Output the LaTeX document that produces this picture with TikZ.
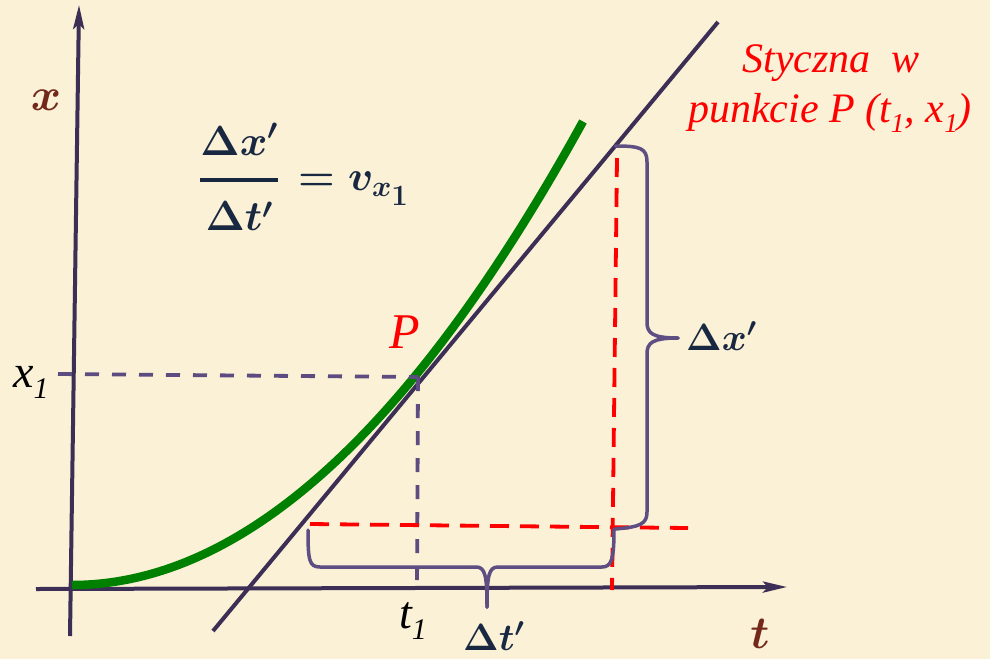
\RequirePackage{fix-cm}
\documentclass[tikz,border=0pt]{standalone}
\usepackage{amsmath}
\usepackage{graphicx}
\usepackage[no-math]{fontspec}
\setmainfont{Liberation Serif}
\usetikzlibrary{arrows.meta}
\definecolor{bg}{RGB}{250,241,215}
\definecolor{axiscol}{RGB}{60,46,84}
\definecolor{dashpurple}{RGB}{93,76,128}
\definecolor{bracecol}{RGB}{94,78,130}
\definecolor{curvegreen}{RGB}{0,128,0}
\definecolor{navy}{RGB}{25,40,65}
\definecolor{brown}{RGB}{115,40,25}
\newcommand\lsub[1]{\raisebox{-0.25em}{\scalebox{0.65}{#1}}}
\begin{document}
\begin{tikzpicture}[x=1pt,y=-1pt,
  axisline/.style={draw=axiscol,line width=4pt,-{Stealth[length=24pt,width=11pt,inset=5pt]}},
  tangentline/.style={draw=axiscol,line width=4pt},
  curveline/.style={draw=curvegreen,line width=8.5pt},
  guidedash/.style={draw=dashpurple,line width=3.8pt,dash pattern=on 14pt off 13pt},
  reddash/.style={draw=red,line width=3.8pt,dash pattern=on 19pt off 11pt},
  bracepath/.style={draw=bracecol,line width=3.5pt,line cap=round,line join=round},
  redlabel/.style={text=red,inner sep=0pt,font=\rmfamily\itshape\fontsize{42}{50}\selectfont},
  blacklabel/.style={text=black,inner sep=0pt,font=\rmfamily\itshape\fontsize{46}{46}\selectfont},
  axislabel/.style={text=brown,inner sep=0pt,font=\fontsize{46}{46}\selectfont\boldmath},
  mathlabel/.style={text=navy,inner sep=0pt,font=\fontsize{42}{42}\selectfont\boldmath}]
\fill[bg] (0,0) rectangle (990,659);
\useasboundingbox (0,0) rectangle (990,659);
% coordinates
\coordinate (ybot) at (70,636);
\coordinate (ytop) at (79,5);
\coordinate (xleft) at (36,589);
\coordinate (xright) at (787,587);
\coordinate (tanA) at (213,631);
\coordinate (tanB) at (718,22);
\coordinate (O) at (72,585);
\coordinate (G) at (583,121.5);
\coordinate (P) at (418,377);
\coordinate (x1tick) at (58,374);
\coordinate (t1foot) at (417,591);
\coordinate (rh1) at (310,524);
\coordinate (rh2) at (688,528);
\coordinate (rv1) at (617,158);
\coordinate (rv2) at (612,590);
% axes
\draw[axisline] (ybot) -- (ytop);
\draw[axisline] (xleft) -- (xright);
% tangent
\draw[tangentline] (tanA) -- (tanB);
% curve x(t)
\draw[curveline] (O) .. controls (242.3,585) and (412.7,430.5) .. (G);
% guide dashes
\draw[guidedash] (x1tick) -- (P);
\draw[guidedash] (P) -- (t1foot);
\draw[reddash] (rh1) -- (rh2);
\draw[reddash] (rv1) -- (rv2);
% braces
\coordinate (hb1) at (308,530);
\coordinate (hbtip) at (487,607);
\coordinate (hb2) at (614,529);
\draw[bracepath] (hb1) .. controls (308,560) and (309,567) .. (320,567) -- (476,567)
   .. controls (485,567) and (487,575) .. (hbtip);
\draw[bracepath] (hbtip) .. controls (487,575) and (489,567) .. (498,567) -- (602,567)
   .. controls (612,567) and (614,558) .. (hb2);
\coordinate (vb1) at (615,146);
\coordinate (vbtip) at (678,338);
\coordinate (vb2) at (615,529);
\draw[bracepath] (vb1) .. controls (640,146) and (647,148) .. (647,162) -- (647,322)
   .. controls (647,333) and (652,338) .. (vbtip);
\draw[bracepath] (vbtip) .. controls (652,338) and (647,343) .. (647,354) -- (647,512)
   .. controls (647,524) and (640,527) .. (vb2);
% labels
\node[axislabel,anchor=base] (xlab) at (46,110) {$x$};
\node[axislabel,anchor=base] (tlab) at (760,648) {$t$};
\node[redlabel,anchor=base] (sty1) at (831,72) {Styczna\ \ w};
\node[redlabel,anchor=base] (sty2) at (830,122) {punkcie P (t\lsub{1}, x\lsub{1})};
\node[redlabel,anchor=base west,font=\rmfamily\itshape\fontsize{50}{50}\selectfont] (Plab) at (389,348) {P};
\node[blacklabel,anchor=base west] (x1lab) at (13,387) {x\lsub{1}};
\node[blacklabel,anchor=base west] (t1lab) at (399,628) {t\lsub{1}};
\node[mathlabel,anchor=base west] (ratio) at (199,190.5)
  {$\genfrac{}{}{4pt}{0}{\rule[-0.262em]{0pt}{0pt}\Delta x'}{\rule{0pt}{0.88em}\Delta t'}\mkern2mu = v_{x_{\scriptstyle 1}}$};
\node[mathlabel,anchor=base west,font=\fontsize{38}{38}\selectfont\boldmath] (dxlab) at (686,350) {$\Delta x'$};
\node[mathlabel,anchor=base west,font=\fontsize{38}{38}\selectfont\boldmath] (dtlab) at (463,650) {$\Delta t'$};
\end{tikzpicture}
\end{document}
